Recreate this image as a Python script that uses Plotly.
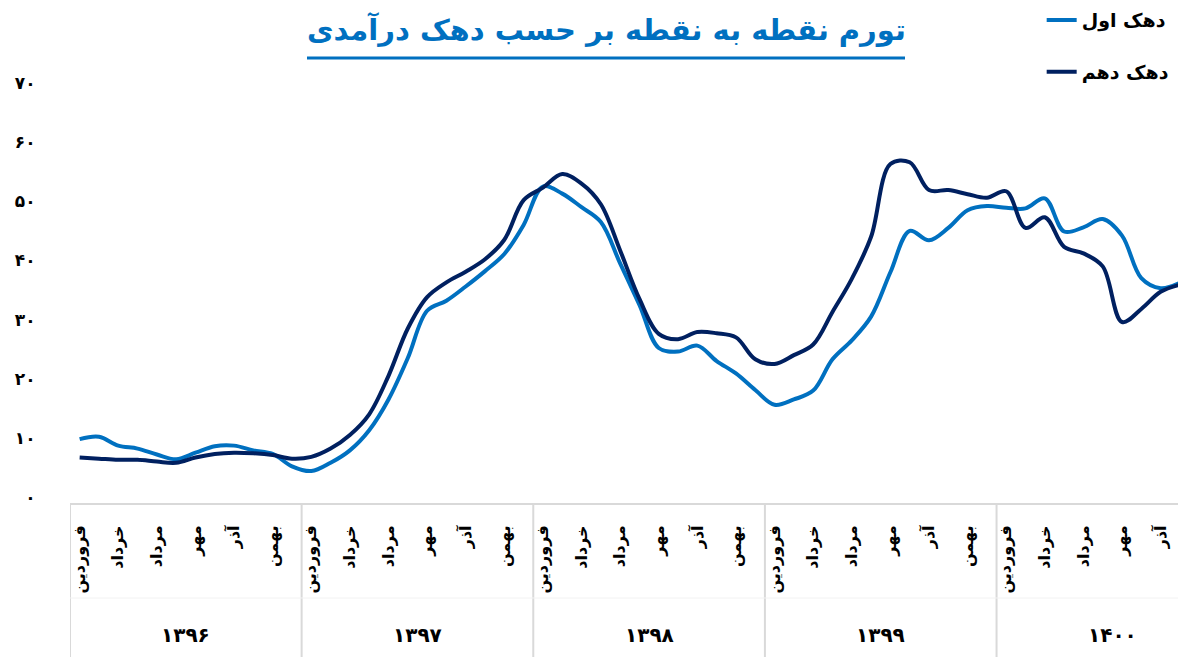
import plotly.graph_objects as go

# ---------------- data ----------------
years = ["۱۳۹۶", "۱۳۹۷", "۱۳۹۸", "۱۳۹۹", "۱۴۰۰"]
months = ["فروردین", "اردیبهشت", "خرداد", "تیر", "مرداد", "شهریور",
          "مهر", "آبان", "آذر", "دی", "بهمن", "اسفند"]
labeled_months = ["فروردین", "خرداد", "مرداد", "مهر", "آذر", "بهمن"]
months_per_year = [12, 12, 12, 12, 10]

series_names = ["دهک اول", "دهک دهم"]
decile_1 = [9.8, 10.2, 8.7, 8.2, 7.2, 6.4, 7.5, 8.6, 8.7, 7.9, 7.3, 5.2,
            4.4, 5.8, 7.9, 11.3, 16.5, 23.5, 31.5, 33.2, 35.6, 38.2, 41.1, 46.0,
            52.5, 51.3, 49.0, 46.5, 39.5, 32.5, 25.2, 24.6, 25.6, 23.0, 20.9, 18.1,
            15.6, 16.5, 18.0, 23.3, 26.5, 30.5, 38.0, 45.0, 43.4, 45.5, 48.5, 49.2,
            48.9, 48.8, 50.5, 44.9, 45.6, 47.0, 44.2, 37.0, 35.3, 36.2]
decile_10 = [6.7, 6.5, 6.3, 6.3, 6.0, 5.8, 6.7, 7.3, 7.5, 7.4, 7.1, 6.5,
             6.8, 8.2, 10.5, 14.0, 20.5, 28.5, 33.8, 36.3, 38.1, 40.2, 43.5, 50.2,
             52.3, 54.6, 53.0, 49.5, 41.7, 33.5, 27.6, 26.7, 27.9, 27.7, 27.0, 23.3,
             22.5, 24.0, 25.8, 31.3, 36.9, 44.0, 56.3, 56.6, 51.9, 51.9, 51.2, 50.6,
             51.7, 45.5, 47.3, 42.3, 41.2, 39.0, 29.6, 31.8, 34.7, 35.9]

y_ticks = [0, 10, 20, 30, 40, 50, 60, 70]
y_tick_text = ["۰", "۱۰", "۲۰", "۳۰", "۴۰", "۵۰", "۶۰", "۷۰"]

title_text = "تورم نقطه به نقطه بر حسب دهک درآمدی"

# ---------------- derived positions ----------------
x = []
tickvals, ticktext = [], []
pos = 0
year_starts = []
for yi, n in enumerate(months_per_year):
    year_starts.append(pos)
    for m in range(n):
        x.append(pos)
        if months[m] in labeled_months:
            tickvals.append(pos)
            ticktext.append(months[m])
        pos += 1

colors = ["#0070C0", "#002060"]
FONT = "DejaVu Sans"

fig = go.Figure()
for name, vals, col in zip(series_names, [decile_1, decile_10], colors):
    fig.add_trace(go.Scatter(
        x=x, y=vals, name=name, mode="lines",
        line=dict(color=col, width=4, shape="spline", smoothing=1),
        legendgroup=name,
    ))

# plot area geometry
x_min = -0.5
x_max = 56.9

fig.update_layout(
    width=1178, height=657, autosize=False,
    margin=dict(l=70, r=0, t=83, b=154),
    plot_bgcolor="white", paper_bgcolor="white",
    showlegend=True,
    legend=dict(
        x=0.997, xanchor="right", y=1.195, yanchor="top",
        font=dict(family=FONT, size=19, color="black", weight="bold"),
        tracegroupgap=24, traceorder="grouped",
        bgcolor="rgba(0,0,0,0)",
    ),
    xaxis=dict(
        range=[x_min, x_max],
        tickmode="array", tickvals=tickvals, ticktext=ticktext,
        tickangle=-90,
        tickfont=dict(family=FONT, size=16, color="black", weight="bold"),
        ticks="outside", ticklen=14, tickcolor="rgba(0,0,0,0)",
        showgrid=False, zeroline=False,
        showline=True, linecolor="#D9D9D9", linewidth=2,
    ),
    yaxis=dict(
        range=[-1, 70],
        tickmode="array", tickvals=y_ticks, ticktext=y_tick_text,
        tickfont=dict(family=FONT, size=17, color="black", weight="bold"),
        ticks="outside", ticklen=30, tickcolor="rgba(0,0,0,0)",
        showgrid=False, zeroline=False, showline=False,
    ),
)

# title + underline
fig.add_annotation(
    text=title_text, xref="paper", yref="paper",
    x=(606 - 70) / 1108, y=(503 - 29) / 420,
    showarrow=False, xanchor="center", yanchor="middle",
    font=dict(family=FONT, size=29, color="#0070C0", weight="bold"),
)
fig.add_shape(type="line", xref="paper", yref="paper",
              x0=(307 - 70) / 1108, x1=(905 - 70) / 1108,
              y0=(503 - 58) / 420, y1=(503 - 58) / 420,
              line=dict(color="#0070C0", width=3))

# year dividers and labels
bottom = -(657 - 503) / 420
for k, (yr, start) in enumerate(zip(years, year_starts)):
    fig.add_shape(type="line", xref="x", yref="paper",
                  x0=start - 0.5, x1=start - 0.5, y0=0, y1=bottom,
                  line=dict(color="#D9D9D9", width=2))
    fig.add_annotation(
        text=yr, xref="x", yref="paper",
        x=start + 5.5, y=(503 - 635) / 420,
        showarrow=False, xanchor="center", yanchor="middle",
        font=dict(family=FONT, size=20, color="black", weight="bold"),
    )
fig.add_shape(type="line", xref="x", yref="paper",
              x0=x_min, x1=x_max, y0=(503 - 598) / 420, y1=(503 - 598) / 420,
              line=dict(color="#F2F2F2", width=1))

fig.write_html("out.html",
               config={"displayModeBar": False},
               post_script="document.body.style.margin='0';document.body.style.overflow='hidden';")
